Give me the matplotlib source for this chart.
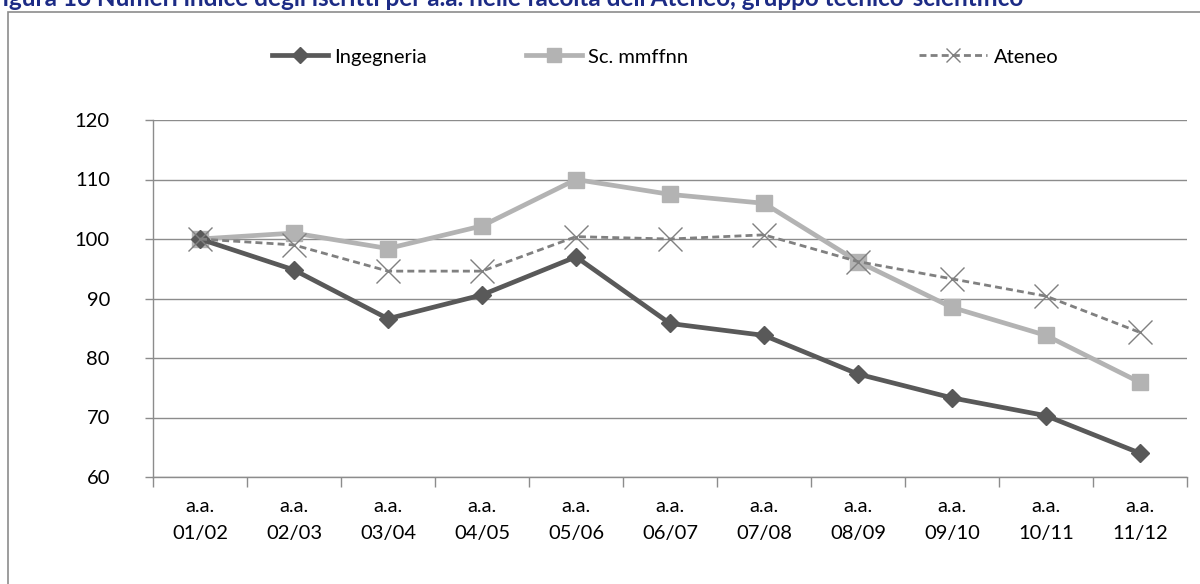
import matplotlib
matplotlib.use("Agg")
import matplotlib.pyplot as plt
from matplotlib.patches import Rectangle

plt.rcParams['font.family'] = ['Lato', 'DejaVu Sans']

# anni accademici e numeri indice (01/02 = 100)
anni = ["01/02", "02/03", "03/04", "04/05", "05/06", "06/07",
        "07/08", "08/09", "09/10", "10/11", "11/12"]
ingegneria = [100, 94.8, 86.6, 90.6, 97.0, 85.8, 83.8, 77.3, 73.3, 70.3, 64.0]
sc_mmffnn = [100, 101.0, 98.4, 102.2, 110.0, 107.5, 106.0, 96.2, 88.5, 83.8, 75.9]
ateneo = [100, 99.0, 94.6, 94.6, 100.4, 100.0, 100.7, 96.2, 93.3, 90.4, 84.3]
y_ticks = [60, 70, 80, 90, 100, 110, 120]

W, H = 1200, 584
fig = plt.figure(figsize=(W / 100, H / 100), dpi=100)

# cornice del grafico
fig.patches.append(Rectangle((8 / W, -0.05), 1.2, 1 - 12 / H + 0.05,
                             transform=fig.transFigure, fill=False,
                             edgecolor='#8c8c8c', lw=1.2))

ax = fig.add_axes([153 / W, 1 - 477 / H, (1187 - 153) / W, (477 - 120) / H])

x = list(range(len(anni)))
l1, = ax.plot(x, ingegneria, color='#595959', lw=3.4, marker='D', ms=9,
              zorder=4)
l2, = ax.plot(x, sc_mmffnn, color='#b3b3b3', lw=3.4, marker='s', ms=11.5,
              zorder=3)
l3, = ax.plot(x, ateneo, color='#808080', lw=2, ls=(0, (2.5, 1.5)),
              marker='x', ms=17, mew=1, zorder=5)

ax.set_xlim(-0.5, len(anni) - 0.5)
ax.set_ylim(60, 120)
ax.set_yticks(y_ticks)
ax.set_xticks([i - 0.5 for i in range(len(anni) + 1)], minor=False)
ax.set_xticklabels([])
ax.set_xticks(x, minor=True)
ax.set_xticklabels(["a.a.\n" + a for a in anni], minor=True)
ax.tick_params(axis='x', which='major', length=7, color='#8c8c8c', width=1)
ax.tick_params(axis='x', which='minor', length=0, pad=15, labelsize=14.5,
               colors='black')
ax.tick_params(axis='y', length=6, color='#8c8c8c', width=1, labelsize=14.5,
               pad=25)
for lab in ax.get_xticklabels(minor=True):
    lab.set_linespacing(1.75)

ax.grid(axis='y', color='#8c8c8c', lw=1)
ax.set_axisbelow(True)
for s in ['top', 'right']:
    ax.spines[s].set_visible(False)
for s in ['left', 'bottom']:
    ax.spines[s].set_color('#8c8c8c')
    ax.spines[s].set_linewidth(1)

# legenda in alto, voci distanziate
for h, nome, xs, hl, ms in [(l1, "Ingegneria", 272, 2.8, 0.85),
                            (l2, "Sc. mmffnn", 526, 2.8, 0.85),
                            (l3, "Ateneo", 919, 3.4, 0.6)]:
    fig.legend(handles=[h], labels=[nome], loc='center left',
               bbox_to_anchor=(xs / W, 1 - 57 / H), frameon=False,
               fontsize=14.5, handlelength=hl, handletextpad=0.3,
               borderpad=0, borderaxespad=0, markerscale=ms)

fig.text(1023 / W, 1 - 6 / H,
         "Figura 16 Numeri indice degli iscritti per a.a. nelle facoltà "
         "dell'Ateneo, gruppo tecnico-scientifico",
         ha='right', va='baseline', fontsize=17.5, fontweight='bold',
         color='#1c2b85')

fig.savefig("out.png", dpi=100)
